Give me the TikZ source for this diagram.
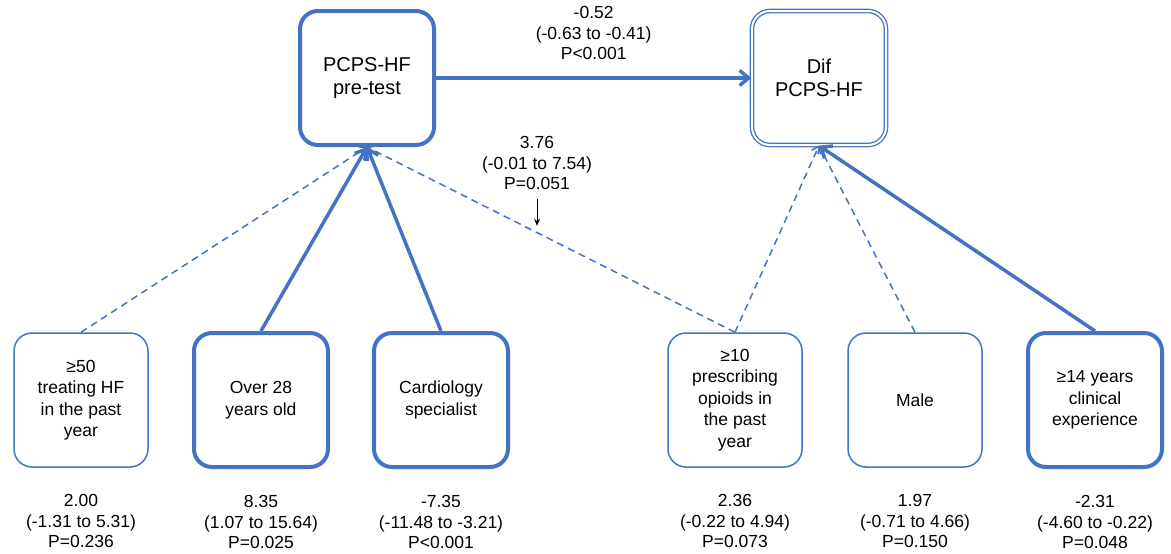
\documentclass[tikz,border=0pt]{standalone}
\usepackage{fontspec}
\setmainfont{Liberation Sans}
\usetikzlibrary{arrows.meta, positioning}
\definecolor{pathblue}{HTML}{4472C4}

\begin{document}
\begin{tikzpicture}[
  x=1pt, y=-1pt,
  every node/.style={align=center, font=\fontsize{17.5}{21.5}\selectfont},
  var box/.style={draw=pathblue, rounded corners=18pt, minimum width=134pt, minimum height=134pt, inner sep=2pt},
  sig box/.style={var box, line width=4pt},
  ns box/.style={var box, line width=1.5pt},
  out box/.style={var box, line width=1.3pt, double, double distance=2pt},
  big/.style={font=\fontsize{20}{23}\selectfont},
  est/.style={font=\fontsize{17.5}{20.5}\selectfont},
  sig path/.style={draw=pathblue, line width=3.5pt, -{Straight Barb[length=9pt, width=15pt]}},
  ns path/.style={draw=pathblue, line width=1.5pt, dash pattern=on 7pt off 5pt, -{Straight Barb[length=6pt, width=10pt]}},
  cue/.style={draw=black, line width=1pt, -{Stealth[length=7pt, width=6pt]}}
]
\useasboundingbox (0,0) rectangle (1171,554);

% outcome boxes
\node[sig box, big] (pre) at (367,78) {PCPS-HF\\pre-test};
\node[out box, big] (dif) at (819,78) {Dif\\PCPS-HF};

% predictors
\node[ns box] (hf) at (81,400) {≥50\\treating HF\\in the past\\year};
\node[sig box] (age) at (261,400) {Over 28\\years old};
\node[sig box] (card) at (441,400) {Cardiology\\specialist};
\node[ns box] (opi) at (735,400) {≥10\\prescribing\\opioids in\\the past\\year};
\node[ns box] (male) at (915,400) {Male};
\node[sig box] (exp) at (1095,400) {≥14 years\\clinical\\experience};

% estimates under the predictors
\node[est, below=23pt of hf] (hf est) {2.00\\(-1.31 to 5.31)\\P=0.236};
\node[est, below=23pt of age] (age est) {8.35\\(1.07 to 15.64)\\P=0.025};
\node[est, below=23pt of card] (card est) {-7.35\\(-11.48 to -3.21)\\P<0.001};
\node[est, below=23pt of opi] (opi est) {2.36\\(-0.22 to 4.94)\\P=0.073};
\node[est, below=23pt of male] (male est) {1.97\\(-0.71 to 4.66)\\P=0.150};
\node[est, below=23pt of exp] (exp est) {-2.31\\(-4.60 to -0.22)\\P=0.048};

% paths
\draw[sig path] (pre) -- node[est, midway, above=13pt] (pre est) {-0.52\\(-0.63 to -0.41)\\P<0.001} (dif);
\draw[ns path] (hf.north) -- (pre.south);
\draw[sig path] (age.north) -- (pre.south);
\draw[sig path] (card.north) -- (pre.south);
\draw[ns path] (opi.north) -- coordinate[pos=0.537] (hit) (pre.south);
\draw[ns path] (opi.north) -- (dif.south);
\draw[ns path] (male.north) -- (dif.south);
\draw[sig path] (exp.north) -- (dif.south);

% direct effect of opioid prescribing on the pre-test
\node[est] (opi pre est) at (537,163) {3.76\\(-0.01 to 7.54)\\P=0.051};
\draw[cue, shorten <=6pt, shorten >=7pt] (opi pre est.south) -- (opi pre est.south |- hit);
\end{tikzpicture}
\end{document}
